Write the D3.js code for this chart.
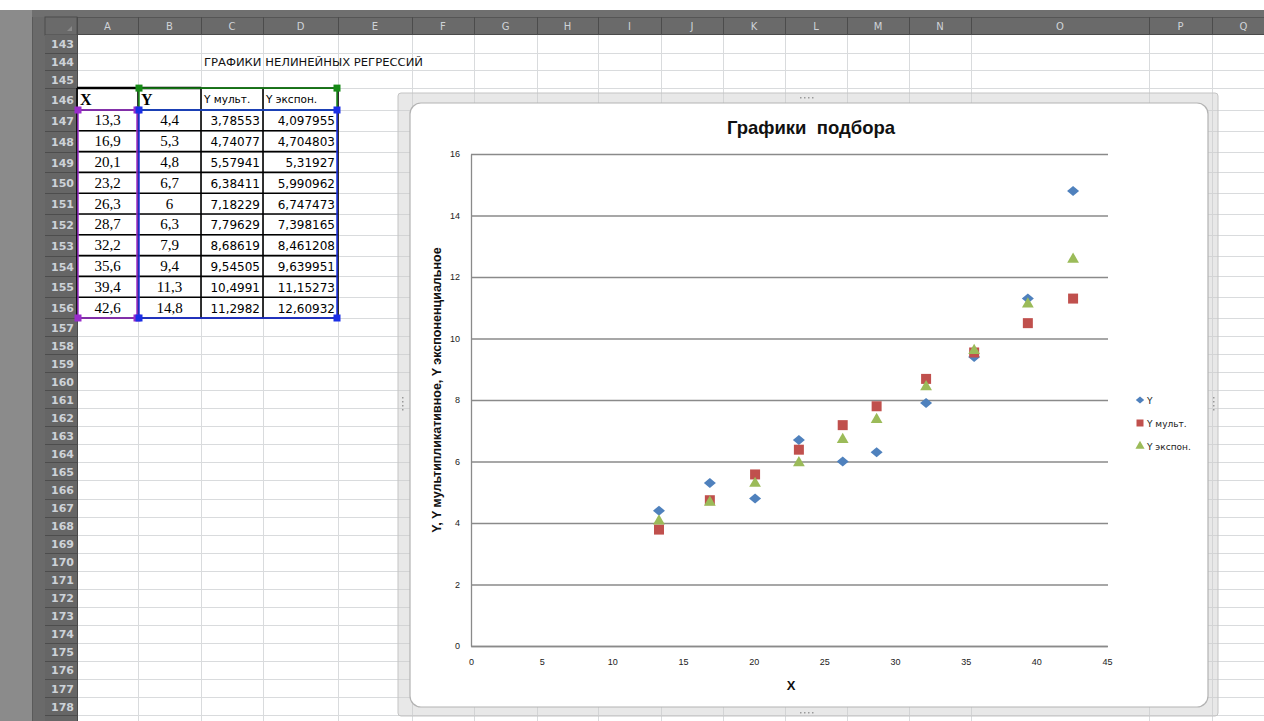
<!DOCTYPE html>
<html>
<head>
<meta charset="utf-8">
<script src="https://cdn.jsdelivr.net/npm/d3@7"></script>
<style>
  body { margin: 0; background: #fff; overflow: hidden; }
  svg { display: block; }
</style>
</head>
<body>
<svg id="sheet"></svg>
<script>
// ---- data (read from the sheet / chart) ----
const xValues = [13.3, 16.9, 20.1, 23.2, 26.3, 28.7, 32.2, 35.6, 39.4, 42.6];
const yValues = [4.4, 5.3, 4.8, 6.7, 6, 6.3, 7.9, 9.4, 11.3, 14.8];
const yMult = [3.78553, 4.74077, 5.57941, 6.38411, 7.18229, 7.79629, 8.68619, 9.54505, 10.4991, 11.2982];
const yExp = [4.097955, 4.704803, 5.31927, 5.990962, 6.747473, 7.398165, 8.461208, 9.639951, 11.15273, 12.60932];
const seriesNames = ["Y", "Y мульт.", "Y экспон."];
const tableHeaders = ["X", "Y", "Y мульт.", "Y экспон."];
const xTicks = [0, 5, 10, 15, 20, 25, 30, 35, 40, 45];
const yTicks = [0, 2, 4, 6, 8, 10, 12, 14, 16];
const colLetters = ["A", "B", "C", "D", "E", "F", "G", "H", "I", "J", "K", "L", "M", "N", "O", "P", "Q"];
const rowNumbers = d3.range(143, 180);
const sheetTitle = "ГРАФИКИ НЕЛИНЕЙНЫХ РЕГРЕССИЙ";
const chartTitle = "Графики  подбора";
const xTitle = "X";
const yTitle = "Y, Y мультипликативное, Y экспоненциальное";

// ---- layout ----
const W = 1264, H = 721;
const colEdges = [77, 138, 201, 263, 338, 412, 474, 537, 598, 661, 723, 785, 847, 909, 971, 1149, 1212, 1275];
const headTop = 17, headBottom = 35;

function rowTop(r) {
  if (r <= 146) return 35 + (r - 143) * 17.7;
  if (r <= 156) return 110 + (r - 147) * 20.8;
  return 318 + (r - 157) * 18.05;
}
function rowBottom(r) { return rowTop(r + 1); }
function rowMid(r) { return (rowTop(r) + rowBottom(r)) / 2; }
function colMid(i) { return (colEdges[i] + colEdges[i + 1]) / 2; }

const svg = d3.select("#sheet").attr("width", W).attr("height", H);

// ---- spreadsheet chrome ----
svg.append("rect").attr("x", 0).attr("y", 0).attr("width", W).attr("height", H).attr("fill", "#fff");

// cell grid
const grid = svg.append("g").attr("stroke", "#d9dbdd").attr("stroke-width", 1);
rowNumbers.forEach(r => {
  grid.append("line").attr("x1", 77).attr("x2", W).attr("y1", Math.round(rowBottom(r)) + 0.5).attr("y2", Math.round(rowBottom(r)) + 0.5);
});
colEdges.forEach(x => {
  grid.append("line").attr("x1", x + 0.5).attr("x2", x + 0.5).attr("y1", headBottom).attr("y2", H);
});

// left strips
svg.append("rect").attr("x", 0).attr("y", 10).attr("width", 32).attr("height", H - 10).attr("fill", "#8b8b8b");
svg.append("rect").attr("x", 32).attr("y", 10).attr("width", 13).attr("height", H - 10).attr("fill", "#6a6a6a");
svg.append("line").attr("x1", 32.5).attr("x2", 32.5).attr("y1", 10).attr("y2", H).attr("stroke", "#5a5a5a");
// top band and column headers
svg.append("rect").attr("x", 32).attr("y", 10).attr("width", W - 32).attr("height", 7).attr("fill", "#6f6f6f");
svg.append("rect").attr("x", 45).attr("y", headTop).attr("width", W - 45).attr("height", headBottom - headTop).attr("fill", "#6a6a6a");
svg.append("line").attr("x1", 45).attr("x2", W).attr("y1", headBottom - 0.5).attr("y2", headBottom - 0.5).attr("stroke", "#4a4a4a");
svg.append("line").attr("x1", 45).attr("x2", W).attr("y1", headTop + 0.5).attr("y2", headTop + 0.5).attr("stroke", "#555");

const colHead = svg.append("g");
colLetters.forEach((c, i) => {
  colHead.append("line").attr("x1", colEdges[i + 1] + 0.5).attr("x2", colEdges[i + 1] + 0.5)
    .attr("y1", headTop).attr("y2", headBottom).attr("stroke", "#4c4c4c");
  colHead.append("text").attr("x", colMid(i)).attr("y", 30).attr("text-anchor", "middle")
    .attr("font-family", "DejaVu Sans").attr("font-size", 10).attr("fill", "#cfd3d8").text(c);
});
// select-all corner
svg.append("rect").attr("x", 45).attr("y", headTop).attr("width", 32).attr("height", headBottom - headTop).attr("fill", "#6a6a6a").attr("stroke", "#4c4c4c");
svg.append("path").attr("d", "M72,31 L72,26 L67,31 Z").attr("fill", "#8a8a8a");

// row headers
svg.append("rect").attr("x", 45).attr("y", headBottom).attr("width", 32).attr("height", H - headBottom).attr("fill", "#666");
const rowHead = svg.append("g");
rowNumbers.forEach(r => {
  rowHead.append("line").attr("x1", 45).attr("x2", 77).attr("y1", Math.round(rowBottom(r)) + 0.5).attr("y2", Math.round(rowBottom(r)) + 0.5).attr("stroke", "#4d4d4d");
  rowHead.append("text").attr("x", 74).attr("y", rowMid(r) + 4.5).attr("text-anchor", "end")
    .attr("font-family", "DejaVu Sans").attr("font-weight", "bold").attr("font-size", 11)
    .attr("fill", "#cdd2d8").text(r);
});
svg.append("line").attr("x1", 77.5).attr("x2", 77.5).attr("y1", headTop).attr("y2", H).attr("stroke", "#4a4a4a");

// ---- sheet contents ----
svg.append("text").attr("x", 204).attr("y", rowMid(144) + 4).attr("font-family", "DejaVu Sans").attr("font-size", 10)
  .attr("textLength", 219).attr("lengthAdjust", "spacingAndGlyphs")
  .attr("fill", "#111").text(sheetTitle);

const table = svg.append("g");
const fmt = v => String(v).replace(".", ",");
const tableCols = [xValues, yValues, yMult, yExp];

// headers
tableHeaders.forEach((h, i) => {
  const serif = i < 2;
  table.append("text").attr("x", colEdges[i] + 3).attr("y", rowMid(146) + (serif ? 6 : 4))
    .attr("font-family", serif ? "Liberation Serif" : "DejaVu Sans")
    .attr("font-weight", serif ? "bold" : "normal")
    .attr("font-size", serif ? 16 : 10.5).attr("fill", "#000").text(h);
});
// values
tableCols.forEach((vals, i) => {
  vals.forEach((v, j) => {
    const r = 147 + j;
    const serif = i < 2;
    table.append("text")
      .attr("x", serif ? colMid(i) : colEdges[i + 1] - 3)
      .attr("y", rowMid(r) + 5)
      .attr("text-anchor", serif ? "middle" : "end")
      .attr("font-family", serif ? "Liberation Serif" : "DejaVu Sans")
      .attr("font-size", serif ? 15 : 12)
      .attr("fill", "#000").text(fmt(v));
  });
});
// borders
const bt = table.append("g").attr("stroke", "#000").attr("stroke-width", 1.6);
d3.range(146, 158).forEach(r => {
  bt.append("line").attr("x1", 77).attr("x2", 338).attr("y1", rowTop(r)).attr("y2", rowTop(r));
});
[0, 1, 2, 3, 4].forEach(i => {
  bt.append("line").attr("x1", colEdges[i]).attr("x2", colEdges[i]).attr("y1", rowTop(146)).attr("y2", rowTop(157));
});
table.append("line").attr("x1", 77).attr("x2", 201).attr("y1", rowTop(146)).attr("y2", rowTop(146)).attr("stroke", "#000").attr("stroke-width", 2.5);

// selection highlights
function selection(x0, y0, x1, y1, color, corners) {
  const g = svg.append("g");
  g.append("rect").attr("x", x0).attr("y", y0).attr("width", x1 - x0).attr("height", y1 - y0)
    .attr("fill", "none").attr("stroke", color).attr("stroke-width", 1.5);
  corners.forEach(([cx, cy]) => {
    g.append("rect").attr("x", cx - 3.5).attr("y", cy - 3.5).attr("width", 7).attr("height", 7).attr("fill", color);
  });
}
const t146 = rowTop(146), t147 = rowTop(147), b156 = rowBottom(156);
selection(78, t147, 137, b156, "#9a2ccc", [[78, t147], [137, t147], [78, b156], [137, b156]]);
selection(139, t146, 337, t147, "#168a16", [[139, t146], [337, t146]]);
selection(139, t147, 337, b156, "#1a2fe6", [[139, t147], [337, t147], [139, b156], [337, b156]]);

// ---- chart object ----
const frame = { x0: 398, y0: 93, x1: 1218, y1: 716 };
const area = { x0: 410, y0: 103, x1: 1208, y1: 707 };

svg.append("rect").attr("x", frame.x0).attr("y", frame.y0).attr("width", frame.x1 - frame.x0).attr("height", frame.y1 - frame.y0)
  .attr("rx", 3).attr("fill", "rgba(205,205,205,0.45)").attr("stroke", "#c4c4c4");
svg.append("rect").attr("x", area.x0).attr("y", area.y0).attr("width", area.x1 - area.x0).attr("height", area.y1 - area.y0)
  .attr("rx", 11).attr("fill", "#fff").attr("stroke", "#b3b3b3").attr("stroke-width", 1.2);

// grip dots on the frame
const grips = [[808, 97, "h"], [808, 712, "h"], [402, 405, "v"], [1213, 405, "v"]];
grips.forEach(([gx, gy, o]) => {
  const g = svg.append("g").attr("fill", "#9a9a9a");
  d3.range(4).forEach(k => {
    g.append("rect").attr("x", o === "h" ? gx - 8 + k * 4 : gx).attr("y", o === "h" ? gy : gy - 8 + k * 4)
      .attr("width", 1.5).attr("height", 1.5);
  });
});

const x = d3.scaleLinear().domain([0, 45]).range([471, 1107]);
const y = d3.scaleLinear().domain([0, 16]).range([646, 154]);

const chart = svg.append("g");

// horizontal gridlines
chart.append("g")
  .attr("transform", `translate(${x(0)},0)`)
  .call(d3.axisLeft(y).tickValues(yTicks).tickSize(-(x(45) - x(0) + 1)).tickFormat(""))
  .call(g => g.select(".domain").remove())
  .call(g => g.selectAll("line").attr("stroke", "#8a8a8a").attr("stroke-width", 1.3));

// y axis
chart.append("g")
  .attr("transform", `translate(${x(0)},0)`)
  .call(d3.axisLeft(y).tickValues(yTicks).tickSize(0).tickPadding(11))
  .call(g => g.select(".domain").attr("stroke", "#8a8a8a").attr("stroke-width", 1.3))
  .call(g => g.selectAll("text").attr("font-family", "Liberation Sans").attr("font-size", 9).attr("fill", "#222"));

// x axis
chart.append("g")
  .attr("transform", `translate(0,${y(0)})`)
  .call(d3.axisBottom(x).tickValues(xTicks).tickSize(0).tickPadding(13))
  .call(g => g.select(".domain").attr("stroke", "#8a8a8a").attr("stroke-width", 1.3))
  .call(g => g.selectAll("text").attr("font-family", "Liberation Sans").attr("font-size", 9).attr("fill", "#222"));

// titles
chart.append("text").attr("x", 811).attr("y", 134).attr("text-anchor", "middle")
  .attr("font-family", "Liberation Sans").attr("font-weight", "bold").attr("font-size", 18.5)
  .attr("fill", "#111").attr("xml:space", "preserve").style("white-space", "pre").text(chartTitle);
chart.append("text").attr("x", 791).attr("y", 690).attr("text-anchor", "middle")
  .attr("font-family", "Liberation Sans").attr("font-weight", "bold").attr("font-size", 13)
  .attr("fill", "#111").text(xTitle);
chart.append("text").attr("transform", "translate(441,390) rotate(-90)").attr("text-anchor", "middle")
  .attr("font-family", "Liberation Sans").attr("font-weight", "bold").attr("font-size", 12.5)
  .attr("fill", "#111").text(yTitle);

// markers
const wideDiamond = {
  draw(context, size) {
    const w = Math.sqrt(size) * 0.6, h = Math.sqrt(size) * 0.5;
    context.moveTo(0, -h); context.lineTo(w, 0); context.lineTo(0, h); context.lineTo(-w, 0); context.closePath();
  }
};
const series = [
  { name: seriesNames[0], values: yValues, color: "#4f81bd", type: wideDiamond, size: 100, legendSize: 49 },
  { name: seriesNames[1], values: yMult, color: "#c0504d", type: d3.symbolSquare, size: 100, legendSize: 49 },
  { name: seriesNames[2], values: yExp, color: "#9bbb59", type: d3.symbolTriangle, size: 60, legendSize: 36 }
];

series.forEach(s => {
  chart.append("g").selectAll("path").data(s.values).join("path")
    .attr("transform", (d, i) => `translate(${x(xValues[i])},${y(d) + (s.type === d3.symbolTriangle ? 1 : 0)})`)
    .attr("d", d3.symbol(s.type, s.size)())
    .attr("fill", s.color);
});

// legend
const legend = chart.append("g").attr("transform", "translate(1140,400)");
series.forEach((s, i) => {
  legend.append("path").attr("transform", `translate(0,${i * 23})`).attr("d", d3.symbol(s.type, s.legendSize)()).attr("fill", s.color);
  legend.append("text").attr("x", 7).attr("y", i * 23 + 3.5).attr("font-family", "DejaVu Sans").attr("font-size", 9)
    .attr("fill", "#222").text(s.name);
});
</script>
</body>
</html>
